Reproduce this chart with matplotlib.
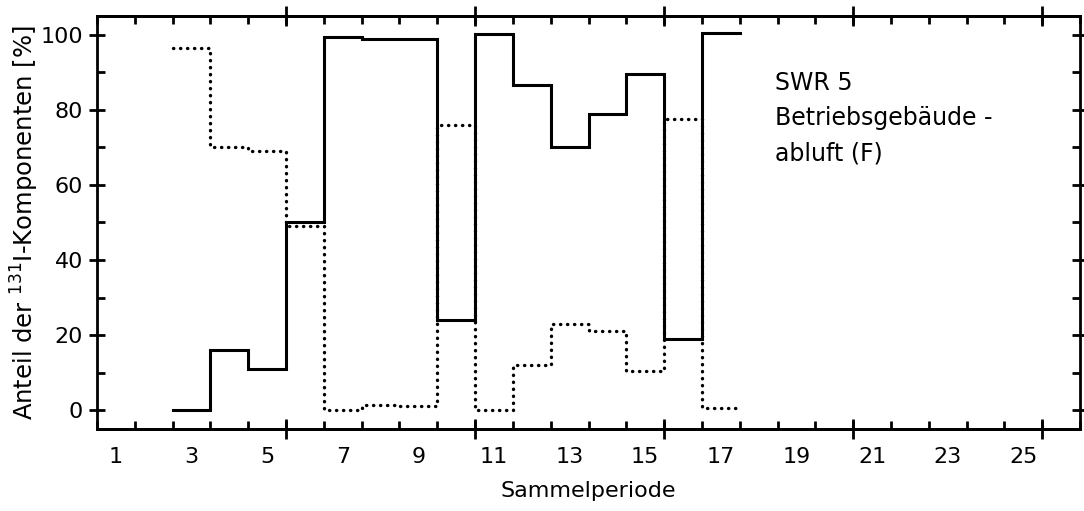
import matplotlib
matplotlib.use("Agg")
import matplotlib.pyplot as plt
import numpy as np

periods = [3, 4, 5, 6, 7, 8, 9, 10, 11, 12, 13, 14, 15, 16, 17]
solid_vals = [0, 16, 11, 50, 99.5, 99, 99, 24, 100.3, 86.5, 70, 79, 89.5, 19, 100.5]
dotted_vals = [96.5, 70, 69, 49, 0, 1.5, 1, 76, 0, 12, 23, 21, 10.5, 77.5, 0.5]
x_labels = [1, 3, 5, 7, 9, 11, 13, 15, 17, 19, 21, 23, 25]
y_ticks = [0, 20, 40, 60, 80, 100]
annotation = "SWR 5\nBetriebsgebäude -\nabluft (F)"

plt.rcParams['font.family'] = ['DejaVu Sans']

fig = plt.figure(figsize=(10.84, 5.11), dpi=100)
ax = fig.add_axes([0.0895, 0.1605, 0.9068, 0.8082])

def step_xy(p, v):
    xs, ys = [], []
    for pi, vi in zip(p, v):
        xs += [pi - 0.5, pi + 0.5]
        ys += [vi, vi]
    return xs, ys

xd, yd = step_xy(periods, dotted_vals)
ax.plot(xd, yd, color='black', lw=2.4, dashes=(0.1, 2.0), dash_capstyle='round', zorder=2)
xs, ys = step_xy(periods, solid_vals)
ax.plot(xs, ys, color='black', lw=2.2, solid_joinstyle='miter', zorder=3)

ax.set_xlim(0.5, 26.5)
ax.set_ylim(-5, 105)

for s in ax.spines.values():
    s.set_linewidth(2.0)

ax.set_xticks(x_labels)
ax.set_xticklabels([str(v) for v in x_labels])
ax.set_xticks(np.arange(0.5, 26.6, 1.0), minor=True)
ax.tick_params(axis='x', which='major', length=0, pad=13, labelsize=16)
ax.tick_params(axis='x', which='minor', direction='in', length=6, width=2.0, top=True, bottom=True)

ax.set_yticks(y_ticks)
ax.set_yticks([10, 30, 50, 70, 90], minor=True)
ax.tick_params(axis='y', which='major', direction='inout', length=12, width=2.0,
               left=True, right=True, labelsize=16, pad=4)
ax.tick_params(axis='y', which='minor', direction='in', length=6, width=2.0, left=True, right=True)

for loc in ['bottom', 'top']:
    sec = ax.secondary_xaxis(loc)
    sec.set_xticks([5.5, 10.5, 15.5, 20.5, 25.5])
    sec.set_xticklabels([])
    sec.tick_params(direction='inout', length=14, width=2.0)
    sec.spines[loc].set_linewidth(2.0)

ax.set_xlabel("Sammelperiode", fontsize=16, labelpad=10)
ax.set_ylabel(r"Anteil der $^{131}$I-Komponenten [%]", fontsize=17.5, labelpad=0)

ax.text(0.69, 0.868, annotation, transform=ax.transAxes, fontsize=17,
        va='top', ha='left', linespacing=1.6)

fig.savefig("out.png", dpi=100)
